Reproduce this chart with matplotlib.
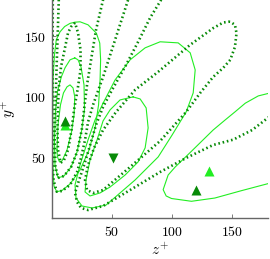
import matplotlib
matplotlib.use("Agg")
import matplotlib.pyplot as plt

plt.rcParams['mathtext.fontset'] = 'cm'
plt.rcParams['font.family'] = ['DejaVu Serif']

# ---- dotted contours (dark green) ----
d1_z = [19.4, 16.1, 13.6, 10.7, 7.75, 6.1, 5.25, 4.8, 5.25, 7.5, 10.25, 13.6, 16.5, 18.6, 21.5, 24.0, 24.0, 21.9, 19.4]
d1_y = [161.2, 157.9, 152.9, 138.8, 124.8, 109.9, 93.4, 72.7, 56.2, 45.5, 47.9, 56.2, 72.7, 89.3, 105.8, 122.3, 138.8, 152.9, 161.2]

d2_z = [5.9, 5.1, 4.0, 3.0, 2.6, 2.9, 5.25, 10.25, 16.1, 21.1, 25.0, 26.9, 29.4, 32.75, 36.9, 42.75]
d2_y = [180.2, 155.4, 122.3, 89.3, 64.5, 43.8, 33.1, 34.7, 42.1, 54.5, 72.7, 89.3, 109.9, 130.6, 155.4, 180.2]

d3_z = [0.9, 0.75, 0.67, 0.83, 1.5, 4.2, 8.6, 15.25, 21.1, 24.4, 27.75, 30.25, 34.4, 42.75, 52.75, 63.6]
d3_y = [180.2, 130.6, 81.0, 47.9, 31.4, 21.7, 22.3, 27.3, 38.0, 49.6, 64.5, 79.3, 93.4, 116.5, 147.1, 180.2]

de_z = [91.1, 81.9, 72.75, 61.9, 50.25, 42.75, 36.9, 32.0, 27.0, 22.8, 19.4, 21.1, 24.4, 30.25, 42.75, 65.25, 90.25, 111.9, 134.4, 151.1, 166.9, 182]
de_y = [180.2, 165.3, 147.1, 126.4, 105.8, 91.7, 76.9, 60.3, 43.8, 31.4, 20.7, 13.2, 8.3, 6.6, 9.9, 23.1, 38.0, 49.6, 60.3, 64.7, 72.7, 84.3]

dl_z = [148.3, 142.75, 134.4, 115.25, 88.6, 69.4, 53.6, 42.75, 35.25, 30.25, 27.75, 29.4, 34.4, 42.75, 65.25, 90.25, 111.9, 123.6, 134.4, 142.75, 148.6, 152.5, 153.8, 152.5, 148.3]
dl_y = [162.2, 161.4, 156.8, 143.0, 120.7, 105.8, 87.6, 72.7, 57.9, 43.8, 31.4, 23.1, 20.7, 23.1, 42.1, 63.6, 87.6, 103.3, 116.5, 124.0, 130.6, 141.3, 152.6, 159.5, 162.2]

# ---- solid contours (bright green) ----
s1_z = [4.4, 5.25, 7.3, 9.8, 12.75, 15.25, 17.75, 19.2, 18.6, 16.5, 12.75, 8.6, 6.5, 4.8, 4.4]
s1_y = [56.2, 76.9, 93.4, 103.3, 108.3, 109.9, 107.4, 100.0, 85.1, 71.1, 56.2, 47.1, 46.3, 50.4, 56.2]

s2_z = [19.2, 15.25, 11.1, 8.0, 4.8, 3.2, 2.3, 2.75, 5.25, 10.25, 16.1, 21.1, 25.0, 27.3, 26.9, 24.4, 21.9, 19.2]
s2_y = [132.2, 130.6, 124.0, 116.5, 104.1, 89.3, 64.5, 43.8, 33.1, 34.7, 42.1, 54.5, 72.7, 89.3, 109.9, 124.8, 130.6, 132.2]

s3_z = [4.2, 1.9, 1.1, 0.9, 0.9, 1.1, 2.3, 3.8, 6.9, 10.8, 15.25, 19.4, 23.6, 30.25, 37.2, 40.0, 40.7, 40.25, 39.0, 36.1, 31.1, 23.6, 15.25, 8.6, 4.2]
s3_y = [21.7, 26.4, 39.7, 56.2, 81.0, 114.0, 134.7, 147.1, 153.7, 158.1, 160.7, 161.7, 162.0, 159.5, 152.6, 144.4, 130.6, 114.0, 93.4, 74.4, 56.2, 39.7, 28.1, 22.7, 21.7]

smin_z = [67.75, 73.6, 78.6, 80.25, 77.75, 71.9, 61.1, 48.6, 40.25, 31.9, 27.75, 28.6, 31.9, 37.75, 42.75, 48.6, 56.9, 67.75]
smin_y = [100.0, 98.3, 90.9, 74.4, 57.9, 46.3, 35.5, 25.6, 20.7, 18.2, 21.5, 31.4, 47.9, 64.5, 80.2, 89.3, 97.5, 100.0]

sbig_z = [42.75, 52.75, 65.25, 77.75, 90.25, 105.25, 115.25, 119.4, 117.75, 111.9, 100.25, 88.6, 69.4, 45.25, 33.6, 25.25, 20.25, 19.4, 23.6, 30.25, 36.1, 42.75]
sbig_y = [94.8, 114.0, 130.6, 140.5, 145.5, 144.6, 136.4, 122.3, 103.3, 87.6, 68.6, 50.4, 31.4, 10.7, 8.3, 9.9, 16.5, 27.3, 43.8, 64.5, 81.0, 94.8]

stri_z = [182, 171.9, 161.1, 152.5, 144.4, 134.4, 116.3, 102.75, 96.9, 92.75, 95.25, 99.7, 116.3, 135.8, 156.9, 182]
stri_y = [103.3, 100.8, 94.8, 87.6, 81.0, 72.7, 55.1, 42.1, 35.5, 23.4, 18.2, 16.1, 13.8, 16.5, 22.3, 28.9]

# ---- markers ----
bright_up_z = [10.8, 130.8]
bright_up_y = [77.0, 38.6]
dark_up_z = [10.8, 119.7]
dark_up_y = [80.0, 23.4]
dark_down_z = [51.0]
dark_down_y = [49.6]

xticks = [50, 100, 150]
yticks = [50, 100, 150]

BRIGHT = '#22ee22'
DARK = '#078a07'

fig = plt.figure(figsize=(2.70, 2.59), dpi=100)
ax = fig.add_axes([51.7 / 270, 41 / 259, (268 - 51.7) / 270, 218 / 259])

for zz, yy in [(s1_z, s1_y), (s2_z, s2_y), (s3_z, s3_y), (smin_z, smin_y),
               (sbig_z, sbig_y), (stri_z, stri_y)]:
    ax.plot(zz, yy, color=BRIGHT, lw=0.8, solid_joinstyle='round')

for zz, yy in [(d1_z, d1_y), (d2_z, d2_y), (d3_z, d3_y), (de_z, de_y), (dl_z, dl_y)]:
    ax.plot(zz, yy, color=DARK, lw=1.9, linestyle=(0, (0.6, 1.05)),
            dash_capstyle='butt')

ax.plot(bright_up_z, bright_up_y, '^', color=BRIGHT, ms=7, mec='none', ls='none')
ax.plot(dark_up_z, dark_up_y, '^', color=DARK, ms=7, mec='none', ls='none')
ax.plot(dark_down_z, dark_down_y, 'v', color=DARK, ms=7, mec='none', ls='none')

ax.set_xlim(0, 180)
ax.set_ylim(0, 180)
ax.set_xticks(xticks)
ax.set_yticks(yticks)
ax.set_xticklabels([f'${t}$' for t in xticks])
ax.set_yticklabels([f'${t}$' for t in yticks])
for s in ['top', 'right']:
    ax.spines[s].set_visible(False)
for s in ['left', 'bottom']:
    ax.spines[s].set_color('#666666')
    ax.spines[s].set_linewidth(1.0)
ax.tick_params(direction='in', length=3, width=0.6, color='#666666',
               labelsize=10, pad=4)
ax.tick_params(axis='x', pad=5)
ax.set_xlabel('$z^{+}$', fontsize=11, labelpad=2)
ax.set_ylabel('$y^{+}$', fontsize=11, labelpad=4)

fig.savefig('out.png', dpi=100)
